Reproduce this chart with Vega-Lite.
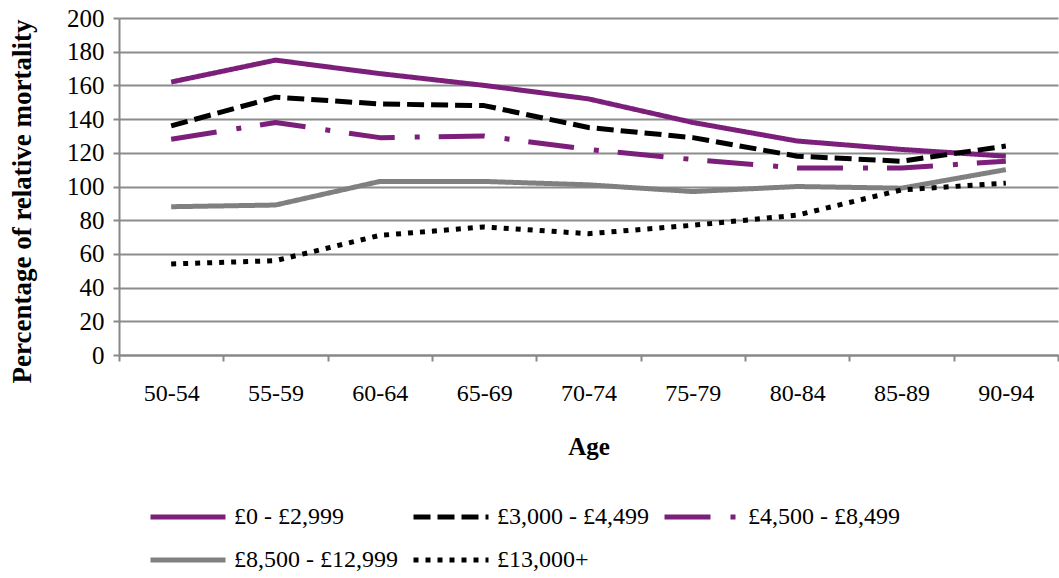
{
  "$schema": "https://vega.github.io/schema/vega-lite/v6.json",
  "autosize": "none",
  "width": 939,
  "height": 337,
  "padding": {"left": 119, "top": 18, "right": 1, "bottom": 223},
  "background": "white",
  "config": {
    "view": {"stroke": null},
    "font": "Liberation Serif",
    "axis": {
      "labelFont": "Liberation Serif",
      "labelFontSize": 24,
      "labelColor": "black",
      "titleFont": "Liberation Serif",
      "titleFontSize": 25,
      "titleFontWeight": "bold",
      "titleColor": "black",
      "domainColor": "#888888",
      "domainWidth": 2,
      "tickColor": "#888888",
      "tickWidth": 2,
      "tickSize": 6,
      "gridColor": "#8c8c8c",
      "gridWidth": 2
    }
  },
  "data": {
    "values": [
      {"age": "50-54", "group": "£0 - £2,999", "value": 162},
      {"age": "55-59", "group": "£0 - £2,999", "value": 175},
      {"age": "60-64", "group": "£0 - £2,999", "value": 167},
      {"age": "65-69", "group": "£0 - £2,999", "value": 160},
      {"age": "70-74", "group": "£0 - £2,999", "value": 152},
      {"age": "75-79", "group": "£0 - £2,999", "value": 138},
      {"age": "80-84", "group": "£0 - £2,999", "value": 127},
      {"age": "85-89", "group": "£0 - £2,999", "value": 122},
      {"age": "90-94", "group": "£0 - £2,999", "value": 118},
      {"age": "50-54", "group": "£3,000 - £4,499", "value": 136},
      {"age": "55-59", "group": "£3,000 - £4,499", "value": 153},
      {"age": "60-64", "group": "£3,000 - £4,499", "value": 149},
      {"age": "65-69", "group": "£3,000 - £4,499", "value": 148},
      {"age": "70-74", "group": "£3,000 - £4,499", "value": 135},
      {"age": "75-79", "group": "£3,000 - £4,499", "value": 129},
      {"age": "80-84", "group": "£3,000 - £4,499", "value": 118},
      {"age": "85-89", "group": "£3,000 - £4,499", "value": 115},
      {"age": "90-94", "group": "£3,000 - £4,499", "value": 124},
      {"age": "50-54", "group": "£4,500 - £8,499", "value": 128},
      {"age": "55-59", "group": "£4,500 - £8,499", "value": 138},
      {"age": "60-64", "group": "£4,500 - £8,499", "value": 129},
      {"age": "65-69", "group": "£4,500 - £8,499", "value": 130},
      {"age": "70-74", "group": "£4,500 - £8,499", "value": 122},
      {"age": "75-79", "group": "£4,500 - £8,499", "value": 116},
      {"age": "80-84", "group": "£4,500 - £8,499", "value": 111},
      {"age": "85-89", "group": "£4,500 - £8,499", "value": 111},
      {"age": "90-94", "group": "£4,500 - £8,499", "value": 115},
      {"age": "50-54", "group": "£8,500 - £12,999", "value": 88},
      {"age": "55-59", "group": "£8,500 - £12,999", "value": 89},
      {"age": "60-64", "group": "£8,500 - £12,999", "value": 103},
      {"age": "65-69", "group": "£8,500 - £12,999", "value": 103},
      {"age": "70-74", "group": "£8,500 - £12,999", "value": 101},
      {"age": "75-79", "group": "£8,500 - £12,999", "value": 97},
      {"age": "80-84", "group": "£8,500 - £12,999", "value": 100},
      {"age": "85-89", "group": "£8,500 - £12,999", "value": 99},
      {"age": "90-94", "group": "£8,500 - £12,999", "value": 110},
      {"age": "50-54", "group": "£13,000+", "value": 54},
      {"age": "55-59", "group": "£13,000+", "value": 56},
      {"age": "60-64", "group": "£13,000+", "value": 71},
      {"age": "65-69", "group": "£13,000+", "value": 76},
      {"age": "70-74", "group": "£13,000+", "value": 72},
      {"age": "75-79", "group": "£13,000+", "value": 77},
      {"age": "80-84", "group": "£13,000+", "value": 83},
      {"age": "85-89", "group": "£13,000+", "value": 98},
      {"age": "90-94", "group": "£13,000+", "value": 102}
    ]
  },
  "mark": {"type": "line", "strokeWidth": 5, "strokeJoin": "round", "strokeCap": "butt"},
  "encoding": {
    "x": {
      "field": "age",
      "type": "ordinal",
      "scale": {
        "type": "band",
        "domain": ["50-54", "55-59", "60-64", "65-69", "70-74", "75-79", "80-84", "85-89", "90-94"],
        "paddingInner": 0,
        "paddingOuter": 0
      },
      "axis": {
        "title": "Age",
        "labelAngle": 0,
        "tickBand": "extent",
        "labelPadding": 20,
        "titlePadding": 29,
        "grid": false
      }
    },
    "y": {
      "field": "value",
      "type": "quantitative",
      "scale": {"domain": [0, 200], "nice": false, "zero": true},
      "axis": {
        "title": "Percentage of relative mortality",
        "titleFontSize": 27,
        "titleY": 183,
        "values": [0, 20, 40, 60, 80, 100, 120, 140, 160, 180, 200],
        "grid": true,
        "labelFontSize": 25,
        "labelPadding": 9,
        "titlePadding": 30
      }
    },
    "color": {
      "field": "group",
      "type": "nominal",
      "scale": {
        "domain": ["£0 - £2,999", "£3,000 - £4,499", "£4,500 - £8,499", "£8,500 - £12,999", "£13,000+"],
        "range": ["#7b1f7b", "#000000", "#7b1f7b", "#808080", "#000000"]
      },
      "legend": {
        "title": null,
        "orient": "none",
        "legendX": 29,
        "legendY": 484,
        "direction": "horizontal",
        "columns": 3,
        "gridAlign": "each",
        "symbolType": "M-1,0H5",
        "symbolSize": 625,
        "symbolStrokeWidth": 5,
        "labelFont": "Liberation Serif",
        "labelFontSize": 24,
        "labelColor": "black",
        "labelOffset": 56,
        "columnPadding": 5,
        "rowPadding": 16,
        "labelLimit": 400
      }
    },
    "strokeDash": {
      "field": "group",
      "type": "nominal",
      "scale": {
        "domain": ["£0 - £2,999", "£3,000 - £4,499", "£4,500 - £8,499", "£8,500 - £12,999", "£13,000+"],
        "range": [[1, 0], [17, 7], [46, 20, 5, 19], [1, 0], [5, 7]]
      },
      "legend": null
    }
  }
}
